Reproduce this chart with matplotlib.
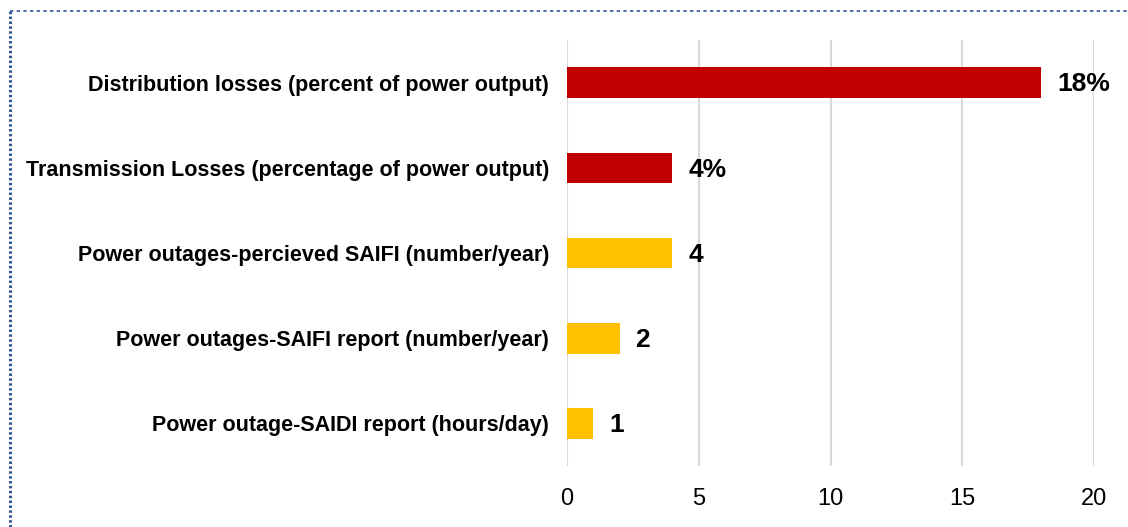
import numpy as np
import matplotlib
matplotlib.use('Agg')
import matplotlib.pyplot as plt
from matplotlib.lines import Line2D

# ---------------------------------------------------------------
# data
# ---------------------------------------------------------------
categories = ['Distribution losses (percent of power output)',
              'Transmission Losses (percentage of power output)',
              'Power outages-percieved SAIFI (number/year)',
              'Power outages-SAIFI report (number/year)',
              'Power outage-SAIDI report (hours/day)']
values = [18, 4, 4, 2, 1]
value_labels = ['18%', '4%', '4', '2', '1']
bar_colors = ['#C00000', '#C00000', '#FFC000', '#FFC000', '#FFC000']
xticks = [0, 5, 10, 15, 20]

plt.rcParams['font.family'] = ['Liberation Sans', 'DejaVu Sans']

fig = plt.figure(figsize=(11.28, 5.27), dpi=100)
ax = fig.add_axes([0.5027, 0.1157, 0.4672, 0.8083])

y = np.arange(len(categories))
ax.barh(y, values, height=0.36, color=bar_colors, zorder=3)
for yi, v, lab in zip(y, values, value_labels):
    ax.text(v + 0.6, yi + 0.02, lab, va='center', ha='left',
            fontsize=19, fontweight='bold', color='black')

ax.set_ylim(len(categories) - 0.5, -0.5)
ax.set_xlim(0, 20)
ax.set_xticks(xticks)
ax.set_xticklabels([str(t) for t in xticks], fontsize=17)
ax.set_yticks(y)
ax.set_yticklabels(categories, fontsize=15.5, fontweight='bold')
ax.tick_params(axis='both', length=0)
ax.tick_params(axis='x', pad=16)
ax.tick_params(axis='y', pad=13)
ax.grid(axis='x', color='#D9D9D9', linewidth=1.5, zorder=0)
for s in ax.spines.values():
    s.set_visible(False)

# dotted frame (top and left)
fig.add_artist(Line2D([10/1128, 1.0], [1-11/527, 1-11/527], transform=fig.transFigure,
                      color='#2F5597', linewidth=1.2, linestyle=(0, (2, 2))))
fig.add_artist(Line2D([10/1128, 10/1128], [0, 1-11/527], transform=fig.transFigure,
                      color='#2F5597', linewidth=2.2, linestyle=(0, (0.8, 0.8))))

fig.savefig('out.png', dpi=100)
